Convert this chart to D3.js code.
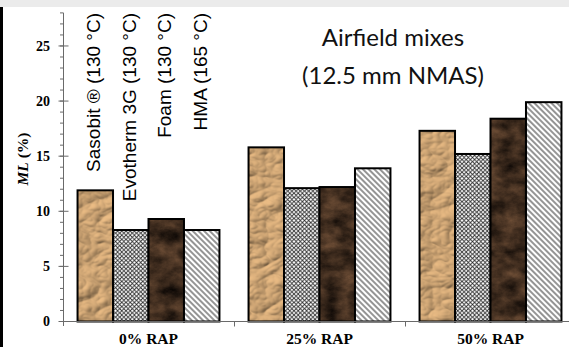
<!DOCTYPE html>
<html><head><meta charset="utf-8">
<script src="https://cdn.jsdelivr.net/npm/d3@7"></script>
<style>html,body{margin:0;padding:0;background:#fff;overflow:hidden}</style>
</head><body>
<svg id="chart" width="569" height="347"></svg>
<script>
const categories = ["0% RAP", "25% RAP", "50% RAP"];
const series = ["Sasobit ® (130 °C)", "Evotherm 3G (130 °C)", "Foam (130 °C)", "HMA (165 °C)"];
const sasobit  = [11.9, 15.8, 17.3];
const evotherm = [8.3, 12.1, 15.2];
const foam     = [9.3, 12.2, 18.4];
const hma      = [8.3, 13.9, 19.9];
const yTicks = [0, 5, 10, 15, 20, 25];
const titleLines = ["Airfield mixes", "(12.5 mm NMAS)"];

const values = [sasobit, evotherm, foam, hma];
const svg = d3.select("#chart");
const defs = svg.append("defs");

// crumpled paper texture
const fp = defs.append("filter").attr("id","paper").attr("filterUnits","userSpaceOnUse")
  .attr("color-interpolation-filters","sRGB")
  .attr("x",0).attr("y",0).attr("width",569).attr("height",347);
fp.append("feTurbulence").attr("type","turbulence").attr("baseFrequency","0.03 0.045").attr("numOctaves",3).attr("seed",7).attr("result","n");
const dl = fp.append("feDiffuseLighting").attr("in","n").attr("lighting-color","#d8ad7a").attr("surfaceScale",2.4).attr("diffuseConstant",1.1).attr("result","lit");
dl.append("feDistantLight").attr("azimuth",225).attr("elevation",58);
fp.append("feComposite").attr("in","lit").attr("in2","SourceGraphic").attr("operator","in");

// dark brown marble texture
const fm = defs.append("filter").attr("id","marble").attr("filterUnits","userSpaceOnUse")
  .attr("color-interpolation-filters","sRGB")
  .attr("x",0).attr("y",0).attr("width",569).attr("height",347);
fm.append("feTurbulence").attr("type","fractalNoise").attr("baseFrequency","0.05 0.07").attr("numOctaves",5).attr("seed",11).attr("result","n");
fm.append("feColorMatrix").attr("in","n").attr("type","matrix")
  .attr("values","0.5 0 0 0 0.0  0.36 0 0 0 -0.005  0.25 0 0 0 -0.005  0 0 0 0 1").attr("result","c");
fm.append("feComposite").attr("in","c").attr("in2","SourceGraphic").attr("operator","in");

// cross hatch
const pc = defs.append("pattern").attr("id","cross").attr("patternUnits","userSpaceOnUse").attr("width",4.2).attr("height",4.2);
pc.append("rect").attr("width",4.2).attr("height",4.2).attr("fill","#fff");
pc.append("path").attr("d","M0,0L4.2,4.2M4.2,0L0,4.2").attr("stroke","#2a2a2a").attr("stroke-width",0.85);

// diagonal hatch
const pd = defs.append("pattern").attr("id","diag").attr("patternUnits","userSpaceOnUse").attr("width",4).attr("height",4)
  .attr("patternTransform","rotate(-45)");
pd.append("rect").attr("width",4).attr("height",4).attr("fill","#fff");
pd.append("line").attr("x1",1).attr("x2",1).attr("y1",0).attr("y2",4).attr("stroke","#7a7a7a").attr("stroke-width",1.6);

// frame decorations
svg.append("rect").attr("x",0).attr("y",0).attr("width",569).attr("height",7).attr("fill","#ebebeb");
svg.append("rect").attr("x",0).attr("y",7).attr("width",3).attr("height",340).attr("fill","#000");

const x0 = d3.scaleBand().domain(categories).range([63, 576]).padding(0);
const x1 = d3.scaleBand().domain(series).range([0, x0.bandwidth()]).paddingInner(0).paddingOuter(0.41);
const y = d3.scaleLinear().domain([0, 28]).range([321.5, 12.9]);

const fills = ["url(#paper)", "url(#cross)", "url(#marble)", "url(#diag)"];

// bars
series.forEach((s, si) => {
  const g = svg.append("g");
  categories.forEach((c, ci) => {
    const v = values[si][ci];
    const bx = x0(c) + x1(s), by = y(v), bw = x1.bandwidth(), bh = y(0) - y(v);
    if (si === 0 || si === 2) {
      g.append("rect").attr("x",bx).attr("y",by).attr("width",bw).attr("height",bh)
        .attr("fill","#000").attr("filter", si === 0 ? "url(#paper)" : "url(#marble)");
    } else {
      g.append("rect").attr("x",bx).attr("y",by).attr("width",bw).attr("height",bh).attr("fill",fills[si]);
    }
    g.append("rect").attr("x",bx).attr("y",by).attr("width",bw).attr("height",bh)
      .attr("fill","none").attr("stroke","#000").attr("stroke-width",2);
  });
});

// y axis
const yAxisG = svg.append("g").attr("transform","translate(63.5,0)");
yAxisG.append("line").attr("y1",y(28)).attr("y2",326).attr("stroke","#6a6a6a").attr("stroke-width",1);
yAxisG.selectAll(".minor").data(d3.range(0, 29)).enter().append("line")
  .attr("x1",-3.5).attr("x2",0).attr("y1",d=>y(d)).attr("y2",d=>y(d)).attr("stroke","#6a6a6a");
yAxisG.selectAll(".major").data(yTicks).enter().append("line")
  .attr("x1",-5).attr("x2",5).attr("y1",d=>y(d)).attr("y2",d=>y(d)).attr("stroke","#6a6a6a");
yAxisG.selectAll(".lab").data(yTicks).enter().append("text")
  .attr("x",-13.5).attr("y",d=>y(d)).attr("dy","0.35em").attr("text-anchor","end")
  .attr("font-family","'Liberation Serif', serif").attr("font-weight","bold").attr("font-size",14)
  .text(d=>d);

// x axis
const xAxisG = svg.append("g").attr("transform","translate(0,321.5)");
xAxisG.append("line").attr("x1",59).attr("x2",569).attr("stroke","#6a6a6a");
xAxisG.selectAll(".sep").data(categories.slice(1)).enter().append("line")
  .attr("x1",d=>x0(d)+0.5).attr("x2",d=>x0(d)+0.5).attr("y1",0).attr("y2",5).attr("stroke","#6a6a6a");
xAxisG.selectAll(".lab").data(categories).enter().append("text")
  .attr("x",d=>x0(d)+x0.bandwidth()/2).attr("y",22.5).attr("text-anchor","middle")
  .attr("font-family","'Liberation Serif', serif").attr("font-weight","bold").attr("font-size",15.5)
  .text(d=>d);

// y label
const yl = svg.append("text").attr("transform","translate(27.5,159) rotate(-90)").attr("text-anchor","middle")
  .attr("font-family","'Liberation Serif', serif").attr("font-weight","bold").attr("font-size",15.5);
yl.append("tspan").attr("font-style","italic").text("ML");
yl.append("tspan").text(" (%)");

// series labels (rotated)
svg.selectAll(".slab").data(series).enter().append("text")
  .attr("transform", d => `translate(${x0(categories[0]) + x1(d) + x1.bandwidth()/2 + 5},13) rotate(-90)`)
  .attr("text-anchor","end")
  .attr("font-family","'Liberation Sans', Arial, sans-serif").attr("font-size",19)
  .text(d=>d);

// title
svg.selectAll(".title").data(titleLines).enter().append("text")
  .attr("x",393).attr("y",(d,i)=> i===0 ? 45.5 : 83.5).attr("text-anchor","middle")
  .attr("font-family","Lato, sans-serif").attr("font-size",24).attr("fill","#111")
  .text(d=>d);
</script>
</body></html>
